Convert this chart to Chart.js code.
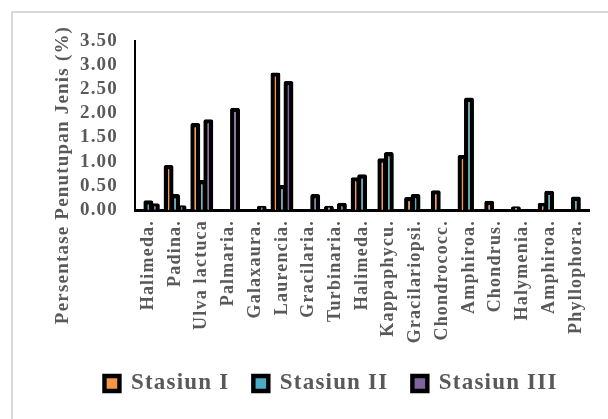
<!DOCTYPE html>
<html>
<head>
<meta charset="utf-8">
<script src="https://cdn.jsdelivr.net/npm/chart.js@4.4.1/dist/chart.umd.min.js"></script>
<style>
  html, body { margin: 0; padding: 0; background: #fff; }
  #wrap { position: relative; width: 608px; height: 419px; overflow: hidden; }
  #frame { position: absolute; left: 11px; top: 11px; width: 640px; height: 440px; border: 2px solid #d9d9d9; box-sizing: border-box; }
  #chart { position: absolute; left: 0; top: 0; }
</style>
</head>
<body>
<div id="wrap">
  <div id="frame"></div>
  <canvas id="chart" width="608" height="419"></canvas>
</div>
<script>
// Species names (category axis)
const categories = ['Halimeda.', 'Padina.', 'Ulva lactuca', 'Palmaria.', 'Galaxaura.', 'Laurencia.',
    'Gracilaria.', 'Turbinaria.', 'Halimeda.', 'Kappaphycu.', 'Gracilariopsi.', 'Chondrococc.',
    'Amphiroa.', 'Chondrus.', 'Halymenia.', 'Amphiroa.', 'Phyllophora.'];

// Persentase penutupan jenis (%) per stasiun
const stasiun1 = [0, 0.93, 1.80, 0, 0, 2.85, 0, 0.09, 0.68, 1.07, 0.27, 0.41, 1.14, 0.19, 0.08, 0.15, 0];
const stasiun2 = [0.20, 0.33, 0.62, 0, 0, 0.52, 0, 0, 0.74, 1.20, 0.33, 0, 2.33, 0, 0, 0.40, 0.28];
const stasiun3 = [0.14, 0.10, 1.88, 2.12, 0.09, 2.67, 0.33, 0.15, 0, 0, 0, 0, 0, 0, 0, 0, 0];

const yTicks = [0, 0.5, 1, 1.5, 2, 2.5, 3, 3.5];
const yTitle = 'Persentase Penutupan Jenis (%)';

const textGray = '#595959';
const serif = "'Liberation Serif', 'Times New Roman', serif";

// the original text is a bit spread out, so widen every glyph run a little
const spacingPlugin = {
    id: 'spacing',
    beforeLayout(chart) { chart.ctx.letterSpacing = '1.2px'; },
    beforeDraw(chart) { chart.ctx.letterSpacing = '1.2px'; },
};

// draw the rotated y title by hand so it can sit lower than the plot centre
const yTitlePlugin = {
    id: 'yTitle',
    afterDraw(chart) {
        const c = chart.ctx;
        c.save();
        c.translate(63, 175);
        c.rotate(-Math.PI / 2);
        c.font = 'bold 19px ' + serif;
        c.fillStyle = textGray;
        c.textAlign = 'center';
        c.textBaseline = 'middle';
        c.fillText(yTitle, 0, 0);
        c.restore();
    }
};

function barSet(label, data, color) {
    return {
        label: label,
        data: data,
        backgroundColor: color,
        borderColor: '#000',
        borderWidth: 4.4,
        borderRadius: 2,
        categoryPercentage: 0.73,
        barPercentage: 1.53,
    };
}

const ctx = document.getElementById('chart').getContext('2d');
new Chart(ctx, {
    type: 'bar',
    data: {
        labels: categories,
        datasets: [
            barSet('Stasiun I', stasiun1, '#F79646'),
            barSet('Stasiun II', stasiun2, '#4BACC6'),
            barSet('Stasiun III', stasiun3, '#8064A2'),
        ],
    },
    options: {
        responsive: false,
        animation: false,
        layout: { padding: { left: 72, top: 41, right: 18, bottom: 14 } },
        plugins: {
            tooltip: { enabled: false },
            legend: {
                position: 'bottom',
                labels: {
                    font: { family: serif, size: 23, weight: 'bold' },
                    color: textGray,
                    boxWidth: 15,
                    boxHeight: 15,
                    padding: 24,
                },
            },
        },
        scales: {
            x: {
                grid: { display: false, drawTicks: false },
                border: { color: '#000', width: 3 },
                ticks: {
                    font: { family: serif, size: 18, weight: 'bold' },
                    color: textGray,
                    minRotation: 90,
                    maxRotation: 90,
                    autoSkip: false,
                    padding: 10,
                },
                afterFit(s) { s.height = 138; },
            },
            y: {
                min: 0,
                max: 3.5,
                afterBuildTicks(s) { s.ticks = yTicks.map(v => ({ value: v })); },
                grid: { display: false, drawTicks: false },
                border: { color: '#000', width: 2 },
                ticks: {
                    font: { family: serif, size: 19, weight: 'bold' },
                    color: textGray,
                    padding: 17,
                    autoSkip: false,
                    callback: v => v.toFixed(2),
                },
                afterFit(s) { s.width = 63; },
            },
        },
    },
    plugins: [spacingPlugin, yTitlePlugin],
});
</script>
</body>
</html>
